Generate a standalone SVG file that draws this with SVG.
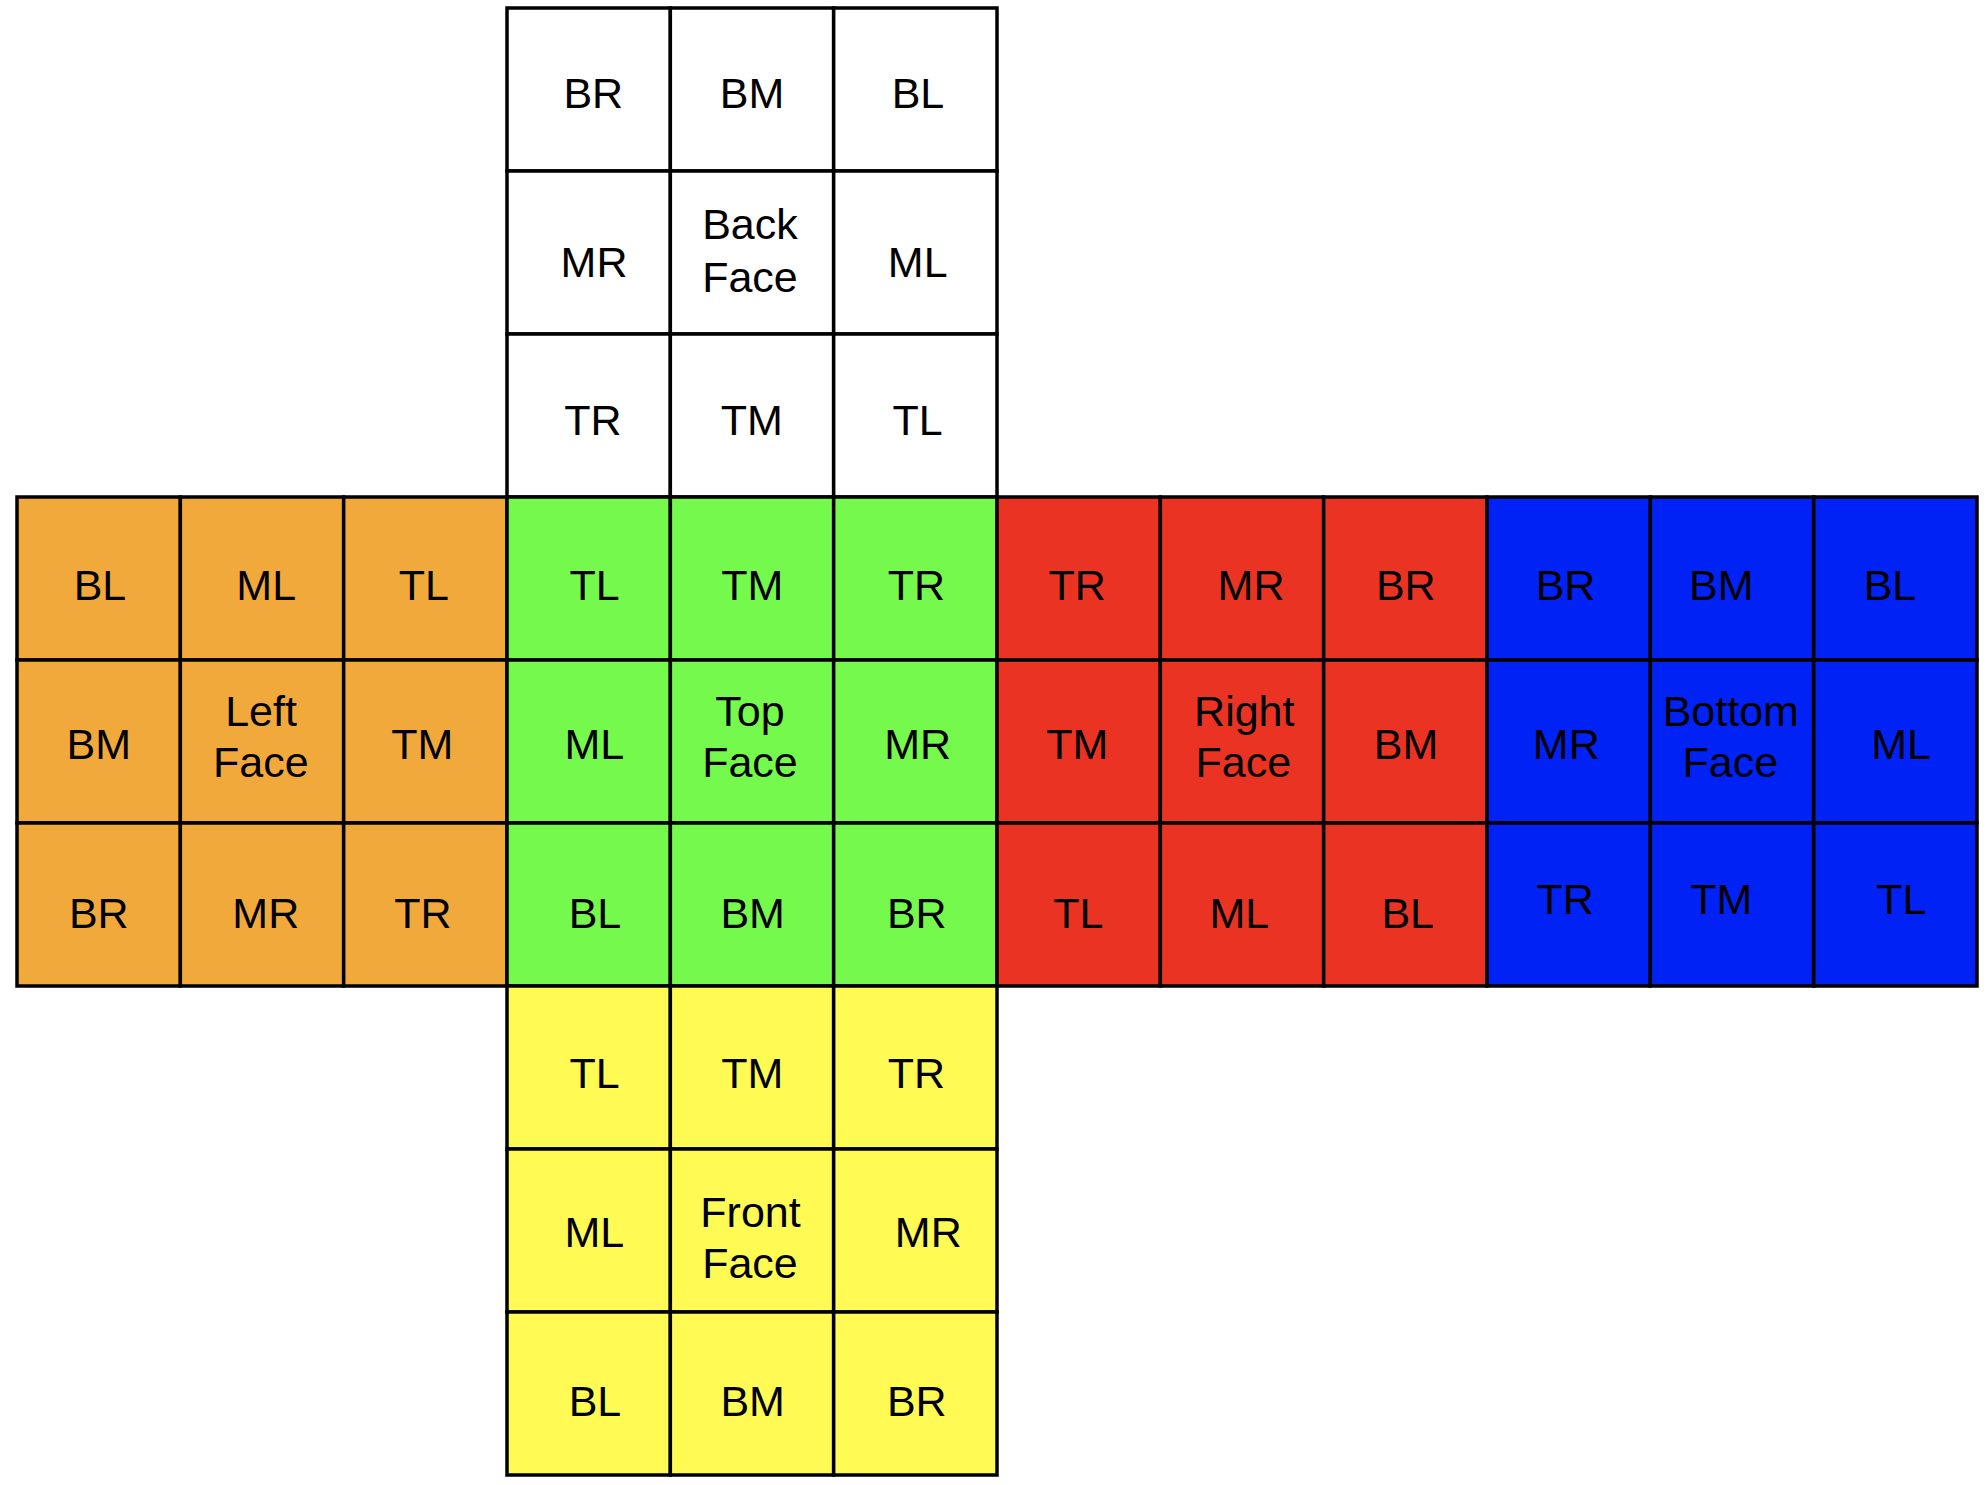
<svg xmlns="http://www.w3.org/2000/svg" width="1988" height="1485" viewBox="0 0 1988 1485">
<style>
rect{stroke:#000;stroke-width:3.5}
text{font-family:"Liberation Sans",Arial,sans-serif;font-size:43px;fill:#000;text-anchor:middle}
.w{fill:#fff}.o{fill:#F2A93C}.g{fill:#75F94C}.r{fill:#EA3323}.b{fill:#0022F5}.y{fill:#FFFB54}
</style>
<rect x="0" y="0" width="1988" height="1485" fill="#fff" style="stroke:none"/>
<g id="back-face">
<g id="back-BR"><rect class="w" x="507" y="8" width="163.33" height="163"/><text x="593.3" y="108.3">BR</text></g>
<g id="back-BM"><rect class="w" x="670.33" y="8" width="163.33" height="163"/><text x="752" y="108.3">BM</text></g>
<g id="back-BL"><rect class="w" x="833.67" y="8" width="163.33" height="163"/><text x="918" y="108.3">BL</text></g>
<g id="back-MR"><rect class="w" x="507" y="171" width="163.33" height="163"/><text x="594" y="276.7">MR</text></g>
<g id="back-center"><rect class="w" x="670.33" y="171" width="163.33" height="163"/><text x="750" y="239.3">Back</text><text x="750" y="291.7">Face</text></g>
<g id="back-ML"><rect class="w" x="833.67" y="171" width="163.33" height="163"/><text x="917.7" y="276.7">ML</text></g>
<g id="back-TR"><rect class="w" x="507" y="334" width="163.33" height="163"/><text x="592.8" y="435">TR</text></g>
<g id="back-TM"><rect class="w" x="670.33" y="334" width="163.33" height="163"/><text x="751.7" y="435">TM</text></g>
<g id="back-TL"><rect class="w" x="833.67" y="334" width="163.33" height="163"/><text x="917.7" y="435">TL</text></g>
</g>
<g id="left-face">
<g id="left-BL"><rect class="o" x="17" y="497" width="163.33" height="163"/><text x="100" y="600">BL</text></g>
<g id="left-ML"><rect class="o" x="180.33" y="497" width="163.33" height="163"/><text x="266.2" y="600">ML</text></g>
<g id="left-TL"><rect class="o" x="343.67" y="497" width="163.33" height="163"/><text x="423.8" y="600">TL</text></g>
<g id="left-BM"><rect class="o" x="17" y="660" width="163.33" height="163"/><text x="98.8" y="759.3">BM</text></g>
<g id="left-center"><rect class="o" x="180.33" y="660" width="163.33" height="163"/><text x="261" y="726">Left</text><text x="260.8" y="777.3">Face</text></g>
<g id="left-TM"><rect class="o" x="343.67" y="660" width="163.33" height="163"/><text x="422.2" y="759.3">TM</text></g>
<g id="left-BR"><rect class="o" x="17" y="823" width="163.33" height="163"/><text x="98.8" y="927.7">BR</text></g>
<g id="left-MR"><rect class="o" x="180.33" y="823" width="163.33" height="163"/><text x="265.8" y="927.7">MR</text></g>
<g id="left-TR"><rect class="o" x="343.67" y="823" width="163.33" height="163"/><text x="422.8" y="927.7">TR</text></g>
</g>
<g id="top-face">
<g id="top-TL"><rect class="g" x="507" y="497" width="163.33" height="163"/><text x="594.5" y="600">TL</text></g>
<g id="top-TM"><rect class="g" x="670.33" y="497" width="163.33" height="163"/><text x="752.2" y="600">TM</text></g>
<g id="top-TR"><rect class="g" x="833.67" y="497" width="163.33" height="163"/><text x="916.3" y="600">TR</text></g>
<g id="top-ML"><rect class="g" x="507" y="660" width="163.33" height="163"/><text x="594.3" y="759.3">ML</text></g>
<g id="top-center"><rect class="g" x="670.33" y="660" width="163.33" height="163"/><text x="750" y="726">Top</text><text x="750" y="777">Face</text></g>
<g id="top-MR"><rect class="g" x="833.67" y="660" width="163.33" height="163"/><text x="917.7" y="759.3">MR</text></g>
<g id="top-BL"><rect class="g" x="507" y="823" width="163.33" height="163"/><text x="595" y="927.7">BL</text></g>
<g id="top-BM"><rect class="g" x="670.33" y="823" width="163.33" height="163"/><text x="752.7" y="927.7">BM</text></g>
<g id="top-BR"><rect class="g" x="833.67" y="823" width="163.33" height="163"/><text x="916.8" y="927.7">BR</text></g>
</g>
<g id="right-face">
<g id="right-TR"><rect class="r" x="997" y="497" width="163.33" height="163"/><text x="1077.2" y="600">TR</text></g>
<g id="right-MR"><rect class="r" x="1160.33" y="497" width="163.33" height="163"/><text x="1251" y="600">MR</text></g>
<g id="right-BR"><rect class="r" x="1323.67" y="497" width="163.33" height="163"/><text x="1405.8" y="600">BR</text></g>
<g id="right-TM"><rect class="r" x="997" y="660" width="163.33" height="163"/><text x="1077.2" y="759.3">TM</text></g>
<g id="right-center"><rect class="r" x="1160.33" y="660" width="163.33" height="163"/><text x="1244.3" y="726">Right</text><text x="1243.3" y="777">Face</text></g>
<g id="right-BM"><rect class="r" x="1323.67" y="660" width="163.33" height="163"/><text x="1406" y="759.3">BM</text></g>
<g id="right-TL"><rect class="r" x="997" y="823" width="163.33" height="163"/><text x="1078.3" y="927.7">TL</text></g>
<g id="right-ML"><rect class="r" x="1160.33" y="823" width="163.33" height="163"/><text x="1239.3" y="927.7">ML</text></g>
<g id="right-BL"><rect class="r" x="1323.67" y="823" width="163.33" height="163"/><text x="1407.7" y="927.7">BL</text></g>
</g>
<g id="bottom-face">
<g id="bottom-BR"><rect class="b" x="1487" y="497" width="163.33" height="163"/><text x="1565.5" y="600">BR</text></g>
<g id="bottom-BM"><rect class="b" x="1650.33" y="497" width="163.33" height="163"/><text x="1721.3" y="600">BM</text></g>
<g id="bottom-BL"><rect class="b" x="1813.67" y="497" width="163.33" height="163"/><text x="1890" y="600">BL</text></g>
<g id="bottom-MR"><rect class="b" x="1487" y="660" width="163.33" height="163"/><text x="1566.3" y="759.3">MR</text></g>
<g id="bottom-center"><rect class="b" x="1650.33" y="660" width="163.33" height="163"/><text x="1730.8" y="726">Bottom</text><text x="1730.3" y="777">Face</text></g>
<g id="bottom-ML"><rect class="b" x="1813.67" y="660" width="163.33" height="163"/><text x="1901" y="759.3">ML</text></g>
<g id="bottom-TR"><rect class="b" x="1487" y="823" width="163.33" height="163"/><text x="1565.2" y="914.3">TR</text></g>
<g id="bottom-TM"><rect class="b" x="1650.33" y="823" width="163.33" height="163"/><text x="1721.2" y="914.3">TM</text></g>
<g id="bottom-TL"><rect class="b" x="1813.67" y="823" width="163.33" height="163"/><text x="1901.3" y="914.3">TL</text></g>
</g>
<g id="front-face">
<g id="front-TL"><rect class="y" x="507" y="986" width="163.33" height="163"/><text x="594.5" y="1088.3">TL</text></g>
<g id="front-TM"><rect class="y" x="670.33" y="986" width="163.33" height="163"/><text x="752.2" y="1088.3">TM</text></g>
<g id="front-TR"><rect class="y" x="833.67" y="986" width="163.33" height="163"/><text x="916.3" y="1088.3">TR</text></g>
<g id="front-ML"><rect class="y" x="507" y="1149" width="163.33" height="163"/><text x="594.3" y="1246.7">ML</text></g>
<g id="front-center"><rect class="y" x="670.33" y="1149" width="163.33" height="163"/><text x="750.5" y="1226.7">Front</text><text x="750" y="1278.3">Face</text></g>
<g id="front-MR"><rect class="y" x="833.67" y="1149" width="163.33" height="163"/><text x="928.3" y="1246.7">MR</text></g>
<g id="front-BL"><rect class="y" x="507" y="1312" width="163.33" height="163"/><text x="595" y="1416">BL</text></g>
<g id="front-BM"><rect class="y" x="670.33" y="1312" width="163.33" height="163"/><text x="752.7" y="1416">BM</text></g>
<g id="front-BR"><rect class="y" x="833.67" y="1312" width="163.33" height="163"/><text x="916.8" y="1416">BR</text></g>
</g>
</svg>
